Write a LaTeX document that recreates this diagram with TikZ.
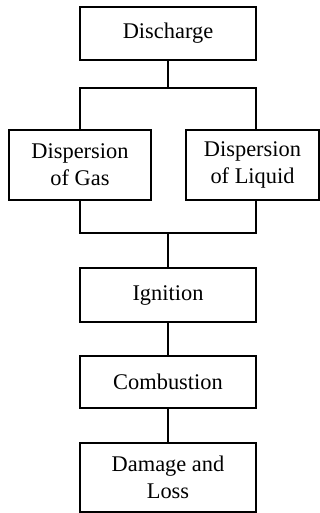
\documentclass[tikz,border=0pt]{standalone}
\usepackage{fontspec}
\setmainfont{Liberation Serif}
\usetikzlibrary{positioning}

\begin{document}
\begin{tikzpicture}[x=1pt, y=1pt, line width=0.95pt,
  blk/.style={draw, rectangle, align=center, inner sep=2pt,
    font=\fontsize{11.2}{13.5}\selectfont}]
\useasboundingbox (0,0) rectangle (160,-256.5);
\node[blk, minimum width=88pt, minimum height=26.5pt] (dis) at (84,-16.75) {Discharge};
\node[blk, minimum width=71pt, minimum height=35pt] (gas) at (40,-82.5) {Dispersion\\of Gas};
\node[blk, minimum width=66.5pt, minimum height=35pt] (liq) at (126.25,-82.5) {Dispersion\\of Liquid};
\node[blk, minimum width=88pt, minimum height=27pt] (ign) at (84,-147.5) {Ignition};
\node[blk, minimum width=88pt, minimum height=26pt] (com) at (84,-191) {Combustion};
\node[blk, minimum width=88pt, minimum height=34.5pt] (dam) at (84,-238.75) {Damage and\\Loss};
% branch points
\coordinate (upl) at (40,-44);
\coordinate (upr) at (128,-44);
\coordinate (lowl) at (40,-116.5);
\coordinate (lowr) at (128,-116.5);
\draw (dis) -- (dis |- upl);
\draw (upl |- gas.north) -- (upl) -- (upr) -- (upr |- liq.north);
\draw (lowl |- gas.south) -- (lowl) -- (lowr) -- (lowr |- liq.south);
\draw (ign |- lowl) -- (ign);
\draw (ign) -- (com);
\draw (com) -- (dam);
\end{tikzpicture}
\end{document}
